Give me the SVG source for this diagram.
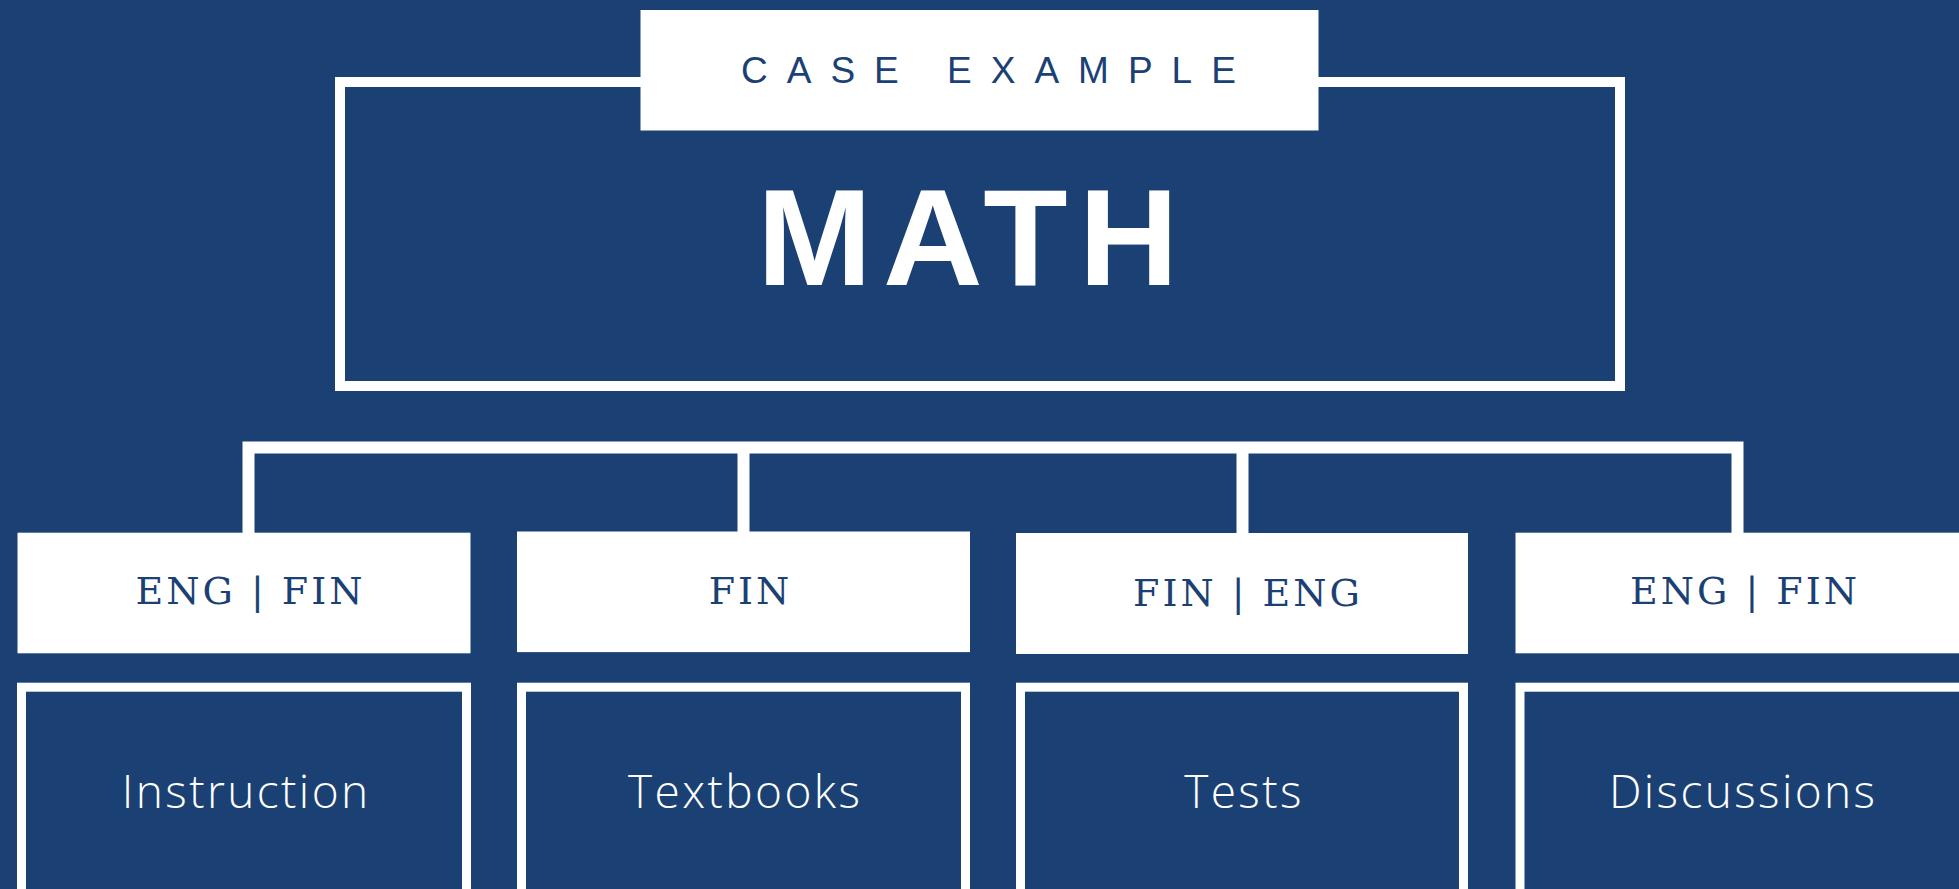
<svg xmlns="http://www.w3.org/2000/svg" width="1959" height="889" viewBox="0 0 1959 889">
<style>
.bg{fill:#1b4174}
.wbox{fill:#ffffff}
.obox{fill:none;stroke:#ffffff;stroke-width:9}
.conn{fill:none;stroke:#ffffff;stroke-width:12;stroke-linejoin:miter;stroke-linecap:butt}
.case{font-family:"Liberation Sans",Arial,sans-serif;font-size:37px;fill:#1b4174;letter-spacing:19px}
.math{font-family:"Liberation Sans",Arial,sans-serif;font-size:138px;font-weight:bold;fill:#ffffff;letter-spacing:11px}
.lang{font-family:"DejaVu Serif",serif;font-size:38px;fill:#1b4174;letter-spacing:3px;text-anchor:middle}
.item{font-family:"Open Sans",sans-serif;font-size:46px;font-weight:350;fill:#ffffff;letter-spacing:2.4px;text-anchor:middle}
</style>
<rect class="bg" x="0" y="0" width="1959" height="889"/>
<g id="connectors">
<path class="conn" d="M248.5,533 V447.5 H1737.5 V533"/>
<path class="conn" d="M743.5,447.5 V533"/>
<path class="conn" d="M1242.5,447.5 V533"/>
</g>
<g id="math">
<rect x="340" y="82" width="1280" height="304" fill="none" stroke="#ffffff" stroke-width="10"/>
<text class="math" x="757" y="285">MATH</text>
</g>
<g id="case-example">
<rect class="wbox" x="640.5" y="10" width="678" height="120.5"/>
<text class="case" x="741" y="83">CASE EXAMPLE</text>
</g>
<g id="lang1">
<rect class="wbox" x="17.5" y="532.7" width="453" height="120.6"/>
<text class="lang" x="250.5" y="604">ENG | FIN</text>
</g>
<g id="lang2">
<rect class="wbox" x="517" y="531.5" width="453" height="120.6"/>
<text class="lang" x="750.5" y="604">FIN</text>
</g>
<g id="lang3">
<rect class="wbox" x="1016" y="533" width="452" height="121"/>
<text class="lang" x="1248" y="606">FIN | ENG</text>
</g>
<g id="lang4">
<rect class="wbox" x="1515.5" y="532.7" width="453" height="120.6"/>
<text class="lang" x="1745" y="604">ENG | FIN</text>
</g>
<g id="instruction">
<rect class="obox" x="21.5" y="687.2" width="445" height="260"/>
<text class="item" x="246.2" y="808">Instruction</text>
</g>
<g id="textbooks">
<rect class="obox" x="521.5" y="687.2" width="444" height="260"/>
<text class="item" x="745.2" y="808">Textbooks</text>
</g>
<g id="tests">
<rect class="obox" x="1020.5" y="687.2" width="443" height="260"/>
<text class="item" x="1244" y="808">Tests</text>
</g>
<g id="discussions">
<rect class="obox" x="1520" y="687.2" width="445" height="260"/>
<text class="item" x="1743.2" y="808">Discussions</text>
</g>
</svg>
